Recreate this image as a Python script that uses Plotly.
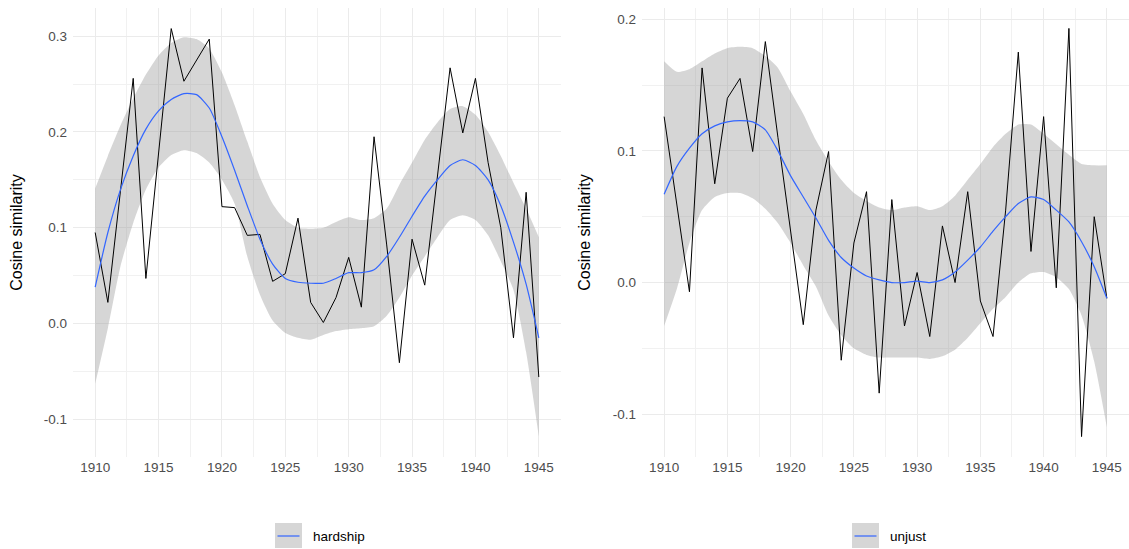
import plotly.graph_objects as go

# ---------------- data ----------------
years = list(range(1910, 1946))

hardship_sim = [0.095, 0.022, 0.139, 0.256, 0.047, 0.18, 0.308, 0.253, 0.275, 0.297,
                0.122, 0.121, 0.092, 0.093, 0.044, 0.052, 0.110, 0.022, 0.001, 0.027,
                0.069, 0.017, 0.195, 0.082, -0.041, 0.088, 0.040, 0.154, 0.267, 0.199,
                0.256, 0.168, 0.100, -0.015, 0.137, -0.056]
hardship_fit = [0.038, 0.095, 0.14, 0.175, 0.203, 0.222, 0.234, 0.240, 0.239, 0.225,
                0.195, 0.16, 0.123, 0.088, 0.062, 0.047, 0.043, 0.042, 0.042, 0.047,
                0.053, 0.053, 0.056, 0.07, 0.09, 0.112, 0.133, 0.15, 0.165, 0.171,
                0.165, 0.15, 0.123, 0.085, 0.041, -0.015]
hardship_upper = [0.141, 0.175, 0.207, 0.235, 0.26, 0.28, 0.293, 0.299, 0.297, 0.287,
                  0.262, 0.228, 0.19, 0.153, 0.125, 0.108, 0.10, 0.099, 0.10, 0.106,
                  0.111, 0.108, 0.11, 0.12, 0.145, 0.168, 0.192, 0.21, 0.224, 0.227,
                  0.218, 0.20, 0.175, 0.147, 0.12, 0.09]
hardship_lower = [-0.063, -0.005, 0.06, 0.105, 0.14, 0.163, 0.176, 0.181, 0.178, 0.168,
                  0.15, 0.125, 0.07, 0.03, 0.003, -0.01, -0.015, -0.017, -0.012, -0.008,
                  -0.006, -0.005, -0.003, 0.008, 0.027, 0.05, 0.07, 0.09, 0.108, 0.113,
                  0.108, 0.092, 0.065, 0.035, -0.03, -0.118]

unjust_sim = [0.126, 0.06, -0.007, 0.163, 0.075, 0.14, 0.155, 0.0995, 0.183, 0.11,
              0.04, -0.032, 0.055, 0.0995, -0.059, 0.03, 0.069, -0.084, 0.063, -0.033,
              0.0076, -0.041, 0.043, 0.0, 0.069, -0.014, -0.041, 0.055, 0.175, 0.0236,
              0.126, -0.004, 0.193, -0.117, 0.050, -0.012]
unjust_fit = [0.067, 0.088, 0.102, 0.113, 0.119, 0.122, 0.123, 0.122, 0.116, 0.10,
              0.081, 0.065, 0.049, 0.032, 0.019, 0.011, 0.005, 0.002, 0.0, 0.0,
              0.001, 0.0, 0.002, 0.008, 0.017, 0.027, 0.039, 0.05, 0.06, 0.065,
              0.063, 0.055, 0.046, 0.031, 0.012, -0.012]
unjust_upper = [0.168, 0.160, 0.162, 0.168, 0.174, 0.178, 0.179, 0.178, 0.172, 0.163,
                0.145, 0.128, 0.108, 0.092, 0.078, 0.068, 0.062, 0.057, 0.055, 0.057,
                0.058, 0.055, 0.058, 0.066, 0.078, 0.09, 0.103, 0.113, 0.12, 0.12,
                0.113, 0.105, 0.097, 0.09, 0.089, 0.089]
unjust_lower = [-0.033, -0.005, 0.03, 0.055, 0.065, 0.068, 0.068, 0.064, 0.056, 0.045,
                0.03, 0.013, -0.003, -0.025, -0.04, -0.05, -0.055, -0.057, -0.057, -0.057,
                -0.057, -0.058, -0.056, -0.051, -0.042, -0.031, -0.02, -0.011, 0.0, 0.007,
                0.008, 0.004, -0.005, -0.025, -0.06, -0.11]

x_ticks = [1910, 1915, 1920, 1925, 1930, 1935, 1940, 1945]
x_minor = [1912.5, 1917.5, 1922.5, 1927.5, 1932.5, 1937.5, 1942.5]
y1_ticks = [-0.1, 0.0, 0.1, 0.2, 0.3]
y1_labels = ["-0.1", "0.0", "0.1", "0.2", "0.3"]
y1_minor = [-0.05, 0.05, 0.15, 0.25]
y2_ticks = [-0.1, 0.0, 0.1, 0.2]
y2_labels = ["-0.1", "0.0", "0.1", "0.2"]
y2_minor = [-0.05, 0.05, 0.15]
terms = ["hardship", "unjust"]

# ---------------- styling ----------------
W, H = 1129, 549
FONT = "Liberation Sans, Arial, sans-serif"
RIBBON = "rgba(153,153,153,0.4)"
BLUE = "#3366FF"
GRID = "#EBEBEB"
GRID_MINOR = "#F1F1F1"
TICK_COLOR = "#4D4D4D"

def px_x(p):
    return p / W

def px_y(p):
    return 1 - p / H

fig = go.Figure()

panels = [
    (hardship_sim, hardship_fit, hardship_upper, hardship_lower, "x", "y"),
    (unjust_sim, unjust_fit, unjust_upper, unjust_lower, "x2", "y2"),
]
for sim, fit, up, lo, xa, ya in panels:
    fig.add_trace(go.Scatter(x=years, y=lo, mode="lines", line=dict(width=0, shape="spline", smoothing=0.6),
                             showlegend=False, hoverinfo="skip", xaxis=xa, yaxis=ya))
    fig.add_trace(go.Scatter(x=years, y=up, mode="lines", line=dict(width=0, shape="spline", smoothing=0.6),
                             fill="tonexty", fillcolor=RIBBON, showlegend=False, hoverinfo="skip",
                             xaxis=xa, yaxis=ya))
    fig.add_trace(go.Scatter(x=years, y=sim, mode="lines", line=dict(color="black", width=1),
                             showlegend=False, xaxis=xa, yaxis=ya))
    fig.add_trace(go.Scatter(x=years, y=fit, mode="lines",
                             line=dict(color=BLUE, width=1.2, shape="spline", smoothing=0.6),
                             showlegend=False, xaxis=xa, yaxis=ya))

def xaxis_cfg(domain):
    return dict(domain=domain, range=[1908.25, 1946.75], tickmode="array", tickvals=x_ticks,
                showgrid=True, gridcolor=GRID, gridwidth=1, zeroline=False, showline=False,
                ticks="", tickfont=dict(family=FONT, size=13.5, color=TICK_COLOR),
                minor=dict(tickmode="array", tickvals=x_minor, showgrid=True,
                           gridcolor=GRID_MINOR, gridwidth=1, ticks=""),
                fixedrange=True)

def yaxis_cfg(rng, ticks, labels, minor, anchor, standoff):
    return dict(domain=[px_y(457), px_y(8)], range=rng, tickmode="array", tickvals=ticks,
                ticktext=labels, showgrid=True, gridcolor=GRID, gridwidth=1, zeroline=False,
                showline=False, ticks="", ticklabelstandoff=5,
                tickfont=dict(family=FONT, size=13.5, color=TICK_COLOR),
                minor=dict(tickmode="array", tickvals=minor, showgrid=True,
                           gridcolor=GRID_MINOR, gridwidth=1, ticks=""),
                title=dict(text="Cosine similarity", font=dict(family=FONT, size=16, color="black"),
                           standoff=standoff),
                anchor=anchor, fixedrange=True)

fig.update_layout(
    width=W, height=H,
    margin=dict(l=0, r=0, t=0, b=0),
    paper_bgcolor="white", plot_bgcolor="white",
    showlegend=False,
    xaxis=dict(xaxis_cfg([px_x(73), px_x(561)]), anchor="y"),
    yaxis=yaxis_cfg([-0.1395, 0.3295], y1_ticks, y1_labels, y1_minor, "x", 17),
    xaxis2=dict(xaxis_cfg([px_x(642), 1.0]), anchor="y2"),
    yaxis2=yaxis_cfg([-0.1325, 0.2085], y2_ticks, y2_labels, y2_minor, "x2", 18),
)

# manual legends (gray key with blue line + label) under each panel
legend_pos = [(275, 302, terms[0]), (852, 879, terms[1])]
for x0, x1, label in legend_pos:
    fig.add_shape(type="rect", xref="paper", yref="paper",
                  x0=px_x(x0), x1=px_x(x1), y0=px_y(548), y1=px_y(523),
                  fillcolor="#D6D6D6", line=dict(width=0))
    fig.add_shape(type="line", xref="paper", yref="paper",
                  x0=px_x(x0 + 2.5), x1=px_x(x1 - 2.5), y0=px_y(536), y1=px_y(536),
                  line=dict(color=BLUE, width=1.2))
    fig.add_annotation(x=px_x(x1 + 9), y=px_y(536), xref="paper", yref="paper",
                       text=label, showarrow=False, xanchor="left", yanchor="middle",
                       font=dict(family=FONT, size=13.5, color="black"))

fig.write_html("out.html",
               config={"displayModeBar": False, "staticPlot": True},
               post_script="document.body.style.margin='0';document.body.style.overflow='hidden';")
